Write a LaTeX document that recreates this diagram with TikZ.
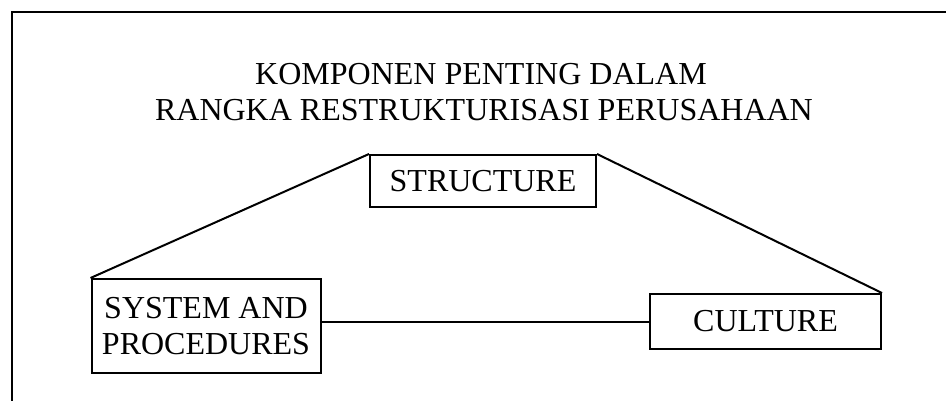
\documentclass[tikz,border=0pt]{standalone}
\usepackage{fontspec}
\setmainfont{Liberation Serif}
\begin{document}
\begin{tikzpicture}[x=1pt,y=-1pt,
  box/.style={draw,line width=2pt,rectangle,inner sep=0pt,align=center,font=\fontsize{32}{36}\selectfont},
  link/.style={line width=2pt},
  ttl/.style={inner sep=0pt,anchor=base,font=\fontsize{32}{36}\selectfont}]
\useasboundingbox (0,0) rectangle (946,401);
\coordinate (fbl) at (12,401);
\coordinate (ftl) at (12,12);
\coordinate (ftr) at (946,12);
\draw[line width=2.2pt] (fbl) -- (ftl) -- (ftr);
\node[ttl] (t1) at (481,85) {KOMPONEN PENTING DALAM};
\node[ttl] (t2) at (484,121) {RANGKA RESTRUKTURISASI PERUSAHAAN};
\node[box,minimum width=226pt,minimum height=52pt] (st) at (483,181) {STRUCTURE};
\node[box,minimum width=229pt,minimum height=94pt] (sy) at (206,326) {SYSTEM AND\\PROCEDURES};
\node[box,minimum width=231pt,minimum height=55pt] (cu) at (765.5,321.5) {CULTURE};
\coordinate (lj) at (sy.east |- cu.west);
\draw[link] (st.north west) -- (sy.north west);
\draw[link] (st.north east) -- (cu.north east);
\draw[link] (lj) -- (cu.west);
\end{tikzpicture}
\end{document}
